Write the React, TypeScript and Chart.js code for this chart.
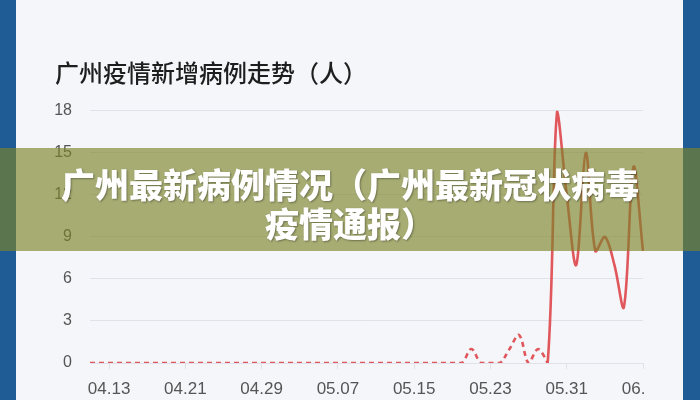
import React, { useEffect, useRef } from "react";
import { Chart, registerables } from "chart.js";

Chart.register(...registerables);

const dates: string[] = [
  "04.11", "04.12", "04.13", "04.14", "04.15", "04.16", "04.17", "04.18", "04.19", "04.20",
  "04.21", "04.22", "04.23", "04.24", "04.25", "04.26", "04.27", "04.28", "04.29", "04.30",
  "05.01", "05.02", "05.03", "05.04", "05.05", "05.06", "05.07", "05.08", "05.09", "05.10",
  "05.11", "05.12", "05.13", "05.14", "05.15", "05.16", "05.17", "05.18", "05.19", "05.20",
  "05.21", "05.22", "05.23", "05.24", "05.25", "05.26", "05.27", "05.28", "05.29", "05.30",
  "05.31", "06.01", "06.02", "06.03", "06.04", "06.05", "06.06", "06.07", "06.08",
];

const newCases: number[] = [
  0, 0, 0, 0, 0, 0, 0, 0, 0, 0,
  0, 0, 0, 0, 0, 0, 0, 0, 0, 0,
  0, 0, 0, 0, 0, 0, 0, 0, 0, 0,
  0, 0, 0, 0, 0, 0, 0, 0, 0, 0,
  1, 0, 0, 0, 1, 2, 0, 1, 0, 18,
  12, 7, 15, 8, 9, 7, 4, 14, 8,
];

const shownTicks: string[] = ["04.13", "04.21", "04.29", "05.07", "05.15", "05.23", "05.31", "06.08"];
const lastTickText = "06.    ";
const dashedUntil = "05.29";

const titleText = "广州疫情新增病例走势（人）";
const bannerText = "广州最新病例情况（广州最新冠状病毒疫情通报）";

export default function App() {
  const canvasRef = useRef<HTMLCanvasElement | null>(null);

  useEffect(() => {
    const canvas = canvasRef.current;
    if (!canvas) return;
    const dashEnd = dates.indexOf(dashedUntil);
    const isShown = (i: number) => shownTicks.includes(dates[i]);
    const chart = new Chart(canvas, {
      type: "line",
      data: {
        labels: dates,
        datasets: [
          {
            data: newCases,
            borderColor: "#e0575c",
            borderWidth: 2.6,
            pointRadius: 0,
            tension: 0.35,
            fill: false,
            segment: {
              borderDash: (ctx: any) => (ctx.p1DataIndex <= dashEnd ? [5, 4] : undefined),
            },
          },
        ],
      },
      options: {
        responsive: false,
        animation: false,
        layout: { padding: { top: 58, left: 39, right: 40, bottom: 0 } },
        plugins: {
          legend: { display: false },
          tooltip: { enabled: false },
          title: {
            display: true,
            text: titleText,
            align: "start",
            color: "#1e1e1e",
            font: { family: "'Noto Sans CJK SC', sans-serif", size: 24, weight: "500", lineHeight: 1.2 },
            padding: { top: 0, bottom: 24 },
          },
        },
        scales: {
          x: {
            offset: false,
            border: { display: false },
            grid: {
              display: true,
              drawOnChartArea: false,
              drawTicks: true,
              tickLength: 6,
              tickColor: (ctx: any) => (isShown(ctx.index) ? "#dde1e8" : "rgba(0,0,0,0)"),
              color: "rgba(0,0,0,0)",
            },
            ticks: {
              autoSkip: false,
              maxRotation: 0,
              minRotation: 0,
              padding: 10,
              color: "#555555",
              font: { family: "'Liberation Sans', Arial, sans-serif", size: 17 },
              callback: (_v: any, i: number) => {
                if (!isShown(i)) return "";
                return i === dates.length - 1 ? lastTickText : dates[i];
              },
            },
            afterFit: (s: any) => {
              s.height = 37;
            },
          },
          y: {
            min: 0,
            max: 18,
            border: { display: false },
            grid: { color: "#dfe2e8", lineWidth: 1, drawTicks: false },
            ticks: {
              stepSize: 3,
              padding: 18,
              color: "#555555",
              font: { family: "'Liberation Sans', Arial, sans-serif", size: 16 },
            },
            afterFit: (s: any) => {
              s.width = 35;
            },
          },
        },
      },
    });
    return () => chart.destroy();
  }, []);

  return (
    <div
      style={{
        position: "fixed",
        left: 0,
        top: 0,
        width: 700,
        height: 400,
        background: "#1f5c96",
        overflow: "hidden",
      }}
    >
      <div
        style={{
          position: "absolute",
          left: 16,
          top: 0,
          width: 667,
          height: 400,
          background: "#f4f6fa",
        }}
      >
        <canvas ref={canvasRef} width={667} height={400} style={{ display: "block" }} />
      </div>
      <div
        style={{
          position: "absolute",
          left: 0,
          top: 148,
          width: 700,
          height: 103,
          background: "rgba(124,132,42,0.65)",
        }}
      >
        <div
          style={{
            position: "absolute",
            left: 55,
            top: 16,
            width: 590,
            textAlign: "center",
            color: "#ffffff",
            fontFamily: "'Noto Sans CJK SC', sans-serif",
            fontWeight: 900,
            fontSize: 34,
            lineHeight: "39px",
            textShadow: "1px 1px 2px rgba(0,0,0,0.35)",
          }}
        >
          {bannerText}
        </div>
      </div>
    </div>
  );
}
